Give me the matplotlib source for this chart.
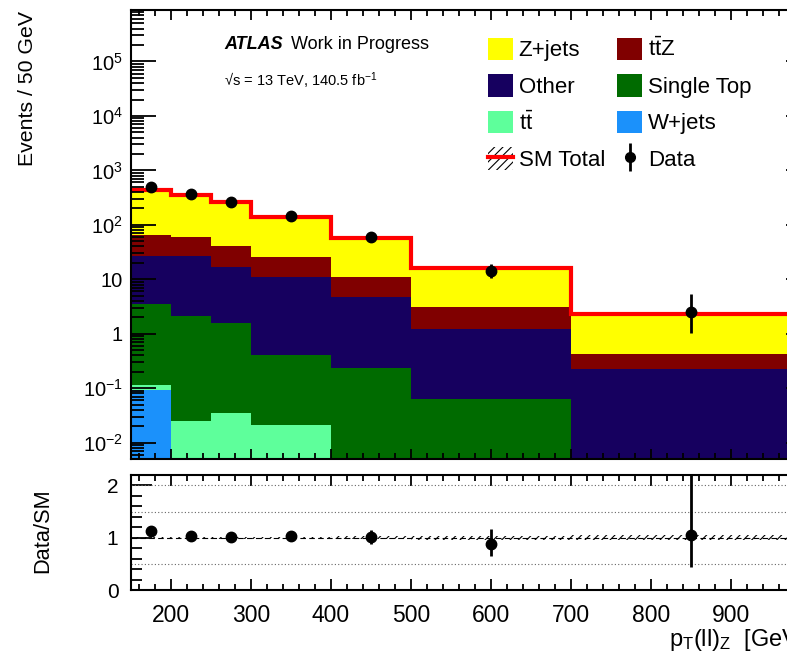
import numpy as np
import matplotlib
matplotlib.use("Agg")
import matplotlib.pyplot as plt
from matplotlib.patches import Patch
from matplotlib.lines import Line2D
from matplotlib.ticker import LogLocator, MultipleLocator, FixedLocator, NullFormatter

plt.rcParams['font.family'] = ['Liberation Sans', 'DejaVu Sans']
plt.rcParams['mathtext.fontset'] = 'custom'
plt.rcParams['mathtext.rm'] = 'Liberation Sans'
plt.rcParams['mathtext.it'] = 'Liberation Sans:italic'
plt.rcParams['mathtext.bf'] = 'Liberation Sans:bold'
plt.rcParams['hatch.linewidth'] = 0.8

# bin edges in pT(ll)_Z [GeV]
edges = np.array([150, 200, 250, 300, 400, 500, 700, 1000])

# background yields per bin
wjets     = np.array([0.094, 0, 0, 0, 0, 0, 0])
ttbar     = np.array([0.018, 0.025, 0.035, 0.021, 0, 0, 0])
singletop = np.array([3.4, 2.05, 1.53, 0.38, 0.23, 0.063, 0])
other     = np.array([23.5, 25.0, 14.9, 10.6, 4.4, 1.18, 0.228])
ttz       = np.array([39.0, 32.0, 24.5, 15.0, 6.2, 1.86, 0.20])
zjets     = np.array([373.0, 292.0, 216.0, 116.0, 47.0, 13.2, 1.90])

# relative MC stat uncertainty (hatched band)
mc_relerr = np.array([0.015, 0.015, 0.015, 0.02, 0.03, 0.04, 0.05])

# data
data      = np.array([492.0, 365.0, 260.0, 146.0, 58.5, 14.2, 2.46])
data_up   = np.array([22.0, 19.0, 16.0, 12.0, 7.6, 4.8, 2.8])
data_down = np.array([22.0, 19.0, 16.0, 12.0, 7.6, 3.6, 1.45])

samples = [("W+jets", wjets, "#1b91fb"),
           (r"$\mathrm{t\bar{t}}$", ttbar, "#5eff9b"),
           ("Single Top", singletop, "#006b00"),
           ("Other", other, "#16005f"),
           (r"$\mathrm{t\bar{t}Z}$", ttz, "#800000"),
           ("Z+jets", zjets, "#ffff00")]

total = wjets + ttbar + singletop + other + ttz + zjets
centers = 0.5 * (edges[1:] + edges[:-1])

W, H = 787, 656
fig = plt.figure(figsize=(W / 100, H / 100), dpi=100)

def px_axes(x0, y0, x1, y1):
    return fig.add_axes([x0 / W, 1 - y1 / H, (x1 - x0) / W, (y1 - y0) / H])

ax = px_axes(131, 9.5, 811, 459)
rax = px_axes(131, 475, 811, 590)

# stacked histogram
bottom = np.full(len(total), 1e-6)
patches = {}
for name, vals, col in samples:
    top = bottom + vals
    ax.stairs(top, edges, baseline=bottom, fill=True, color=col, lw=0)
    patches[name] = Patch(facecolor=col, edgecolor='none')
    bottom = top

ax.stairs(total * (1 + mc_relerr), edges, baseline=total * (1 - mc_relerr),
          fill=True, facecolor='none', edgecolor='black', hatch='////', lw=0)
ax.stairs(total, edges, baseline=None, color='red', lw=3)

ax.errorbar(centers, data, yerr=[data_down, data_up], fmt='o', color='black',
            ms=7.5, elinewidth=2, capsize=0, zorder=5)

ax.set_yscale('log')
ax.set_xlim(150, 1000)
ax.set_ylim(5e-3, 9e5)
ax.yaxis.set_major_locator(FixedLocator([1e-2, 1e-1, 1, 10, 1e2, 1e3, 1e4, 1e5]))
ax.set_yticklabels([r"$10^{-2}$", r"$10^{-1}$", "1", "10", r"$10^{2}$",
                    r"$10^{3}$", r"$10^{4}$", r"$10^{5}$"])
ax.yaxis.set_minor_locator(LogLocator(base=10, subs=np.arange(2, 10), numticks=20))
ax.yaxis.set_minor_formatter(NullFormatter())
ax.xaxis.set_major_locator(MultipleLocator(100))
ax.xaxis.set_minor_locator(MultipleLocator(20))
ax.set_xticklabels([])
ax.tick_params(which='both', direction='in', top=True, right=True, labelsize=14.5, width=1.3)
ax.tick_params(axis='y', which='major', length=18, pad=6)
ax.tick_params(axis='y', which='minor', length=9)
ax.tick_params(axis='x', which='major', length=7)
ax.tick_params(axis='x', which='minor', length=4)
for s in ax.spines.values():
    s.set_linewidth(1.5)

# legend
sm_handle = (Patch(facecolor='none', edgecolor='black', hatch='////', lw=0),
             Line2D([], [], color='red', lw=3))
data_handle = Line2D([], [], color='black', marker='o', ms=7, lw=0)
data_bar = Line2D([0], [0], color='black', lw=2, marker='|', ms=20, mew=2, ls='none')
handles = [patches["Z+jets"], patches["Other"], patches[r"$\mathrm{t\bar{t}}$"], sm_handle,
           patches[r"$\mathrm{t\bar{t}Z}$"], patches["Single Top"], patches["W+jets"],
           (data_bar, data_handle)]
labels = ["Z+jets", "Other", r"$\mathrm{t\bar{t}}$", "SM Total",
          r"$\mathrm{t\bar{t}Z}$", "Single Top", "W+jets", "Data"]
ax.legend(handles, labels, ncol=2, loc='upper left',
          bbox_to_anchor=((488 - 131) / 680, (459 - 37.5) / 449.5),
          frameon=False, fontsize=16, borderpad=0, borderaxespad=0,
          handlelength=1.13, handleheight=1.2, handletextpad=0.25,
          labelspacing=0.57, columnspacing=0.55)

# ATLAS labels
fig.text(224 / W, 1 - 49 / H, "ATLAS", fontsize=13, fontweight='bold', style='italic')
fig.text(291 / W, 1 - 49 / H, "Work in Progress", fontsize=13)
fig.text(224 / W, 1 - 86 / H, "\u221as = 13 TeV, 140.5 fb$^{-1}$", fontsize=10.5)

fig.text(28 / W, 1 - 11 / H, "Events / 50 GeV", rotation=90, ha='center', va='top', fontsize=15.3)

# ratio panel
ratio = data / total
ratio_up = data_up / total
ratio_down = data_down / total
rax.stairs(1 + mc_relerr, edges, baseline=1 - mc_relerr, fill=True,
           facecolor='none', edgecolor='black', hatch='////', lw=0)
for yv in [0.5, 1.5, 2.0]:
    rax.axhline(yv, color='0.4', ls=(0, (1, 2)), lw=0.8)
rax.axhline(1.0, color='black', ls=(0, (5, 3)), lw=0.8)
rax.errorbar(centers, ratio, yerr=[ratio_down, ratio_up], fmt='o', color='black',
             ms=7.5, elinewidth=2, capsize=0, zorder=5, clip_on=True)
rax.set_xlim(150, 1000)
rax.set_ylim(0, 2.2)
rax.yaxis.set_major_locator(FixedLocator([0, 1, 2]))
rax.yaxis.set_minor_locator(MultipleLocator(0.2))
rax.xaxis.set_major_locator(MultipleLocator(100))
rax.xaxis.set_minor_locator(MultipleLocator(20))
rax.tick_params(which='both', direction='in', top=True, right=True, width=1.3)
rax.tick_params(axis='y', which='major', length=15, pad=9, labelsize=15)
rax.tick_params(axis='y', which='minor', length=8)
rax.tick_params(axis='x', which='major', length=8, pad=10, labelsize=16.5)
rax.tick_params(axis='x', which='minor', length=4)
for s in rax.spines.values():
    s.set_linewidth(1.5)

fig.text(43 / W, 1 - 531 / H, "Data/SM", rotation=90, ha='center', va='center', fontsize=15.7)
fig.text(669 / W, 1 - 646 / H, r"p$_{\mathrm{T}}$(ll)$_{\mathrm{Z}}$  [GeV]",
         ha='left', va='baseline', fontsize=17)

fig.savefig("out.png", dpi=100)
